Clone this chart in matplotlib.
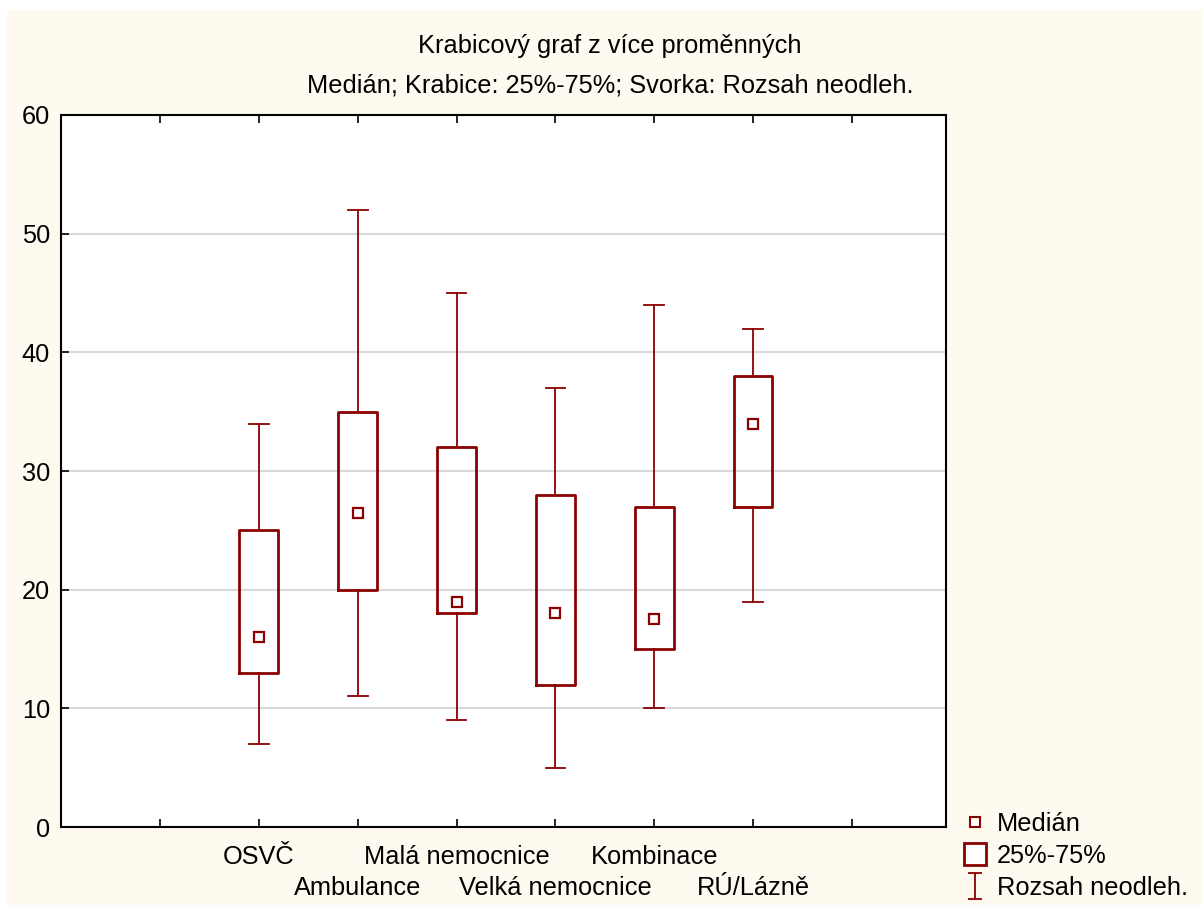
import matplotlib
matplotlib.use("Agg")
import matplotlib.pyplot as plt
from matplotlib.lines import Line2D
from matplotlib.path import Path
from matplotlib.patches import Rectangle

categories = ["OSVČ", "Ambulance", "Malá nemocnice", "Velká nemocnice", "Kombinace", "RÚ/Lázně"]
medians = [16, 26.5, 19, 18, 17.5, 34]
q1 = [13, 20, 18, 12, 15, 27]
q3 = [25, 35, 32, 28, 27, 38]
whisker_low = [7, 11, 9, 5, 10, 19]
whisker_high = [34, 52, 45, 37, 44, 42]
y_ticks = [0, 10, 20, 30, 40, 50, 60]

plt.rcParams['font.family'] = ['Liberation Sans', 'DejaVu Sans']
color = '#8B0000'
fs = 18.3

fig = plt.figure(figsize=(12.03, 9.05), dpi=100, facecolor='white')
fig.patches.append(Rectangle((7 / 1203, 0.0), 1 - 7 / 1203, 1 - 10 / 905,
                             transform=fig.transFigure, facecolor='#FEFAF0',
                             edgecolor='none', zorder=-10))
ax = fig.add_axes([61 / 1203, 1 - 827 / 905, (946 - 61) / 1203, (827 - 115) / 905])
ax.set_facecolor('white')

positions = list(range(1, len(categories) + 1))
stats = []
for i, c in enumerate(categories):
    stats.append(dict(label=c, med=medians[i], q1=q1[i], q3=q3[i],
                      whislo=whisker_low[i], whishi=whisker_high[i], fliers=[]))

ax.bxp(stats, positions=positions, widths=0.39, capwidths=0.2, showfliers=False,
       boxprops=dict(color=color, linewidth=2.0),
       whiskerprops=dict(color=color, linewidth=1.3),
       capprops=dict(color=color, linewidth=1.3),
       medianprops=dict(linestyle='none'), zorder=3)
ax.plot(positions, medians, linestyle='none', marker='s', markersize=7.5,
        markerfacecolor='white', markeredgecolor=color, markeredgewidth=1.6, zorder=4)

ax.set_xlim(-1, 7.95)
ax.set_ylim(0, 60)
ax.set_yticks(y_ticks)
ax.set_yticklabels([str(t) for t in y_ticks], fontsize=fs)
ax.yaxis.grid(True, color='#D9D9D9', linewidth=1.5, zorder=0)
ax.set_axisbelow(True)

# row 1 labels on major ticks, row 2 labels on minor ticks
n = len(categories)
major_pos = [0] + [positions[i] for i in range(0, n, 2)] + [n + 1]
major_lab = [''] + [categories[i] for i in range(0, n, 2)] + ['']
minor_pos = [positions[i] for i in range(1, n, 2)]
minor_lab = [categories[i] for i in range(1, n, 2)]
ax.set_xticks(major_pos)
ax.set_xticklabels(major_lab, fontsize=fs)
ax.set_xticks(minor_pos, minor=True)
ax.set_xticklabels(minor_lab, minor=True, fontsize=fs)
ax.tick_params(axis='x', which='major', direction='in', top=True, bottom=True, length=6, width=1.2, pad=13)
ax.tick_params(axis='x', which='minor', direction='in', top=True, bottom=True, length=6, width=1.2, pad=35.5)
ax.tick_params(axis='y', direction='in', left=True, right=False, length=6, width=1.2, pad=8)
ax.tick_params(axis='y', which='minor', left=False, right=False)
for s in ax.spines.values():
    s.set_linewidth(1.5)
    s.set_color('black')

fig.text(610 / 1203, 1 - 46 / 905, "Krabicový graf z více proměnných", ha='center', va='center', fontsize=fs)
fig.text(610 / 1203, 1 - 86 / 905, "Medián; Krabice: 25%-75%; Svorka: Rozsah neodleh.", ha='center', va='center', fontsize=fs)

ibeam = Path([(-0.5, -1), (0.5, -1), (0, -1), (0, 1), (-0.5, 1), (0.5, 1)],
             [Path.MOVETO, Path.LINETO, Path.MOVETO, Path.LINETO, Path.MOVETO, Path.LINETO])
handles = [
    Line2D([], [], linestyle='none', marker='s', markersize=7, markerfacecolor='white',
           markeredgecolor=color, markeredgewidth=1.5),
    Line2D([], [], linestyle='none', marker='s', markersize=16.5, markerfacecolor='white',
           markeredgecolor=color, markeredgewidth=2),
    Line2D([], [], linestyle='none', marker=ibeam, markersize=19, markerfacecolor='none',
           markeredgecolor=color, markeredgewidth=1.3),
]
leg = fig.legend(handles, ["Medián", "25%-75%", "Rozsah neodleh."], loc='lower left',
                 bbox_to_anchor=(950 / 1203, -8 / 905), frameon=False, fontsize=fs,
                 handlelength=1.0, handletextpad=0.35, labelspacing=0.32, borderpad=0.0)

fig.savefig('out.png', dpi=100, facecolor=fig.get_facecolor())
